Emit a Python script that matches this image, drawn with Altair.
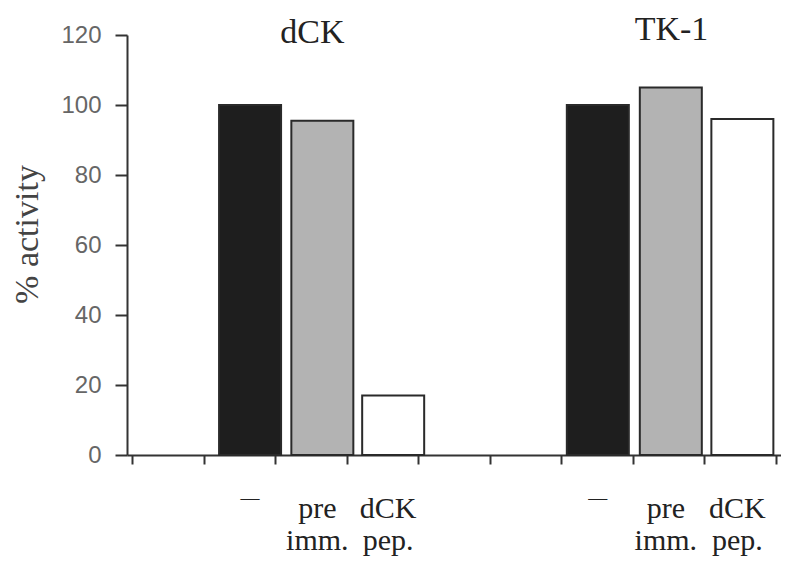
import altair as alt
import pandas as pd

# ---- data ----
groups = ["dCK", "dCK", "dCK", "TK-1", "TK-1", "TK-1"]
treatments = ["none", "pre imm.", "dCK pep.", "none", "pre imm.", "dCK pep."]
activity = [100, 95.5, 17, 100, 105, 96]
bar_pos = [1.65, 2.66, 3.65, 6.51, 7.53, 8.53]
fills = ["#1e1e1e", "#b3b3b3", "#ffffff", "#1e1e1e", "#b3b3b3", "#ffffff"]

label_top = ["", "pre", "dCK", "", "pre", "dCK"]
label_bottom = ["", "imm.", "pep.", "", "imm.", "pep."]
dash_label = ["—", "", "", "—", "", ""]

group_names = ["dCK", "TK-1"]
group_title_pos = [2.52, 7.54]
group_title_y = [8, 5]

y_ticks = [0, 20, 40, 60, 80, 100, 120]
x_ticks = list(range(10))

df = pd.DataFrame({
    "group": groups, "treatment": treatments, "activity": activity,
    "pos": bar_pos, "fill": fills,
    "top": label_top, "bottom": label_bottom, "dash": dash_label,
})
gdf = pd.DataFrame({"name": group_names, "pos": group_title_pos, "ty": group_title_y})

xscale = alt.Scale(domain=[0, 9], nice=False, zero=False)
yscale = alt.Scale(domain=[0, 120], nice=False)

serif = "Liberation Serif"

bars = alt.Chart(df).mark_bar(size=62, stroke="#2a2a2a", strokeWidth=2).encode(
    x=alt.X("pos:Q", scale=xscale,
            axis=alt.Axis(values=x_ticks, labels=False, title=None, grid=False,
                          domainColor="#333", domainWidth=2, tickColor="#333",
                          tickWidth=2, tickSize=9)),
    y=alt.Y("activity:Q", scale=yscale,
            axis=alt.Axis(values=y_ticks, title="% activity", grid=False,
                          domainColor="#333", domainWidth=2, tickColor="#333",
                          tickWidth=2, tickSize=12, labelPadding=14,
                          labelFont="Liberation Sans", labelFontSize=24,
                          labelColor="#666", titleFont=serif, titleFontSize=34,
                          titleFontWeight="normal", titleColor="#444",
                          titleX=-100, titleY=199, titleBaseline="middle")),
    fill=alt.Fill("fill:N", scale=None),
)

titles = alt.Chart(gdf).mark_text(font=serif, fontSize=34, color="#222",
                                   baseline="alphabetic", align="center").encode(
    x=alt.X("pos:Q", scale=xscale),
    y=alt.Y("ty:Q", scale=None),
    text="name:N",
)

top_labels = alt.Chart(df).mark_text(font=serif, fontSize=30, color="#222",
                                     baseline="alphabetic", dx=-5).encode(
    x=alt.X("pos:Q", scale=xscale),
    y=alt.value(483),
    text="top:N",
)
bottom_labels = alt.Chart(df).mark_text(font=serif, fontSize=30, color="#222",
                                        baseline="alphabetic", dx=-5).encode(
    x=alt.X("pos:Q", scale=xscale),
    y=alt.value(515),
    text="bottom:N",
)
dashes = alt.Chart(df).mark_text(font=serif, fontSize=19, color="#222",
                                 baseline="middle").encode(
    x=alt.X("pos:Q", scale=xscale),
    y=alt.value(463),
    text="dash:N",
)

chart = alt.layer(bars, titles, top_labels, bottom_labels, dashes).properties(
    width=654, height=420,
    autosize=alt.AutoSizeParams(type="none"),
    padding={"left": 119, "top": 27, "right": 0, "bottom": 104},
    background="white",
).configure_view(stroke=None)

chart.save("out.html", embed_options={"renderer": "svg", "actions": False})
